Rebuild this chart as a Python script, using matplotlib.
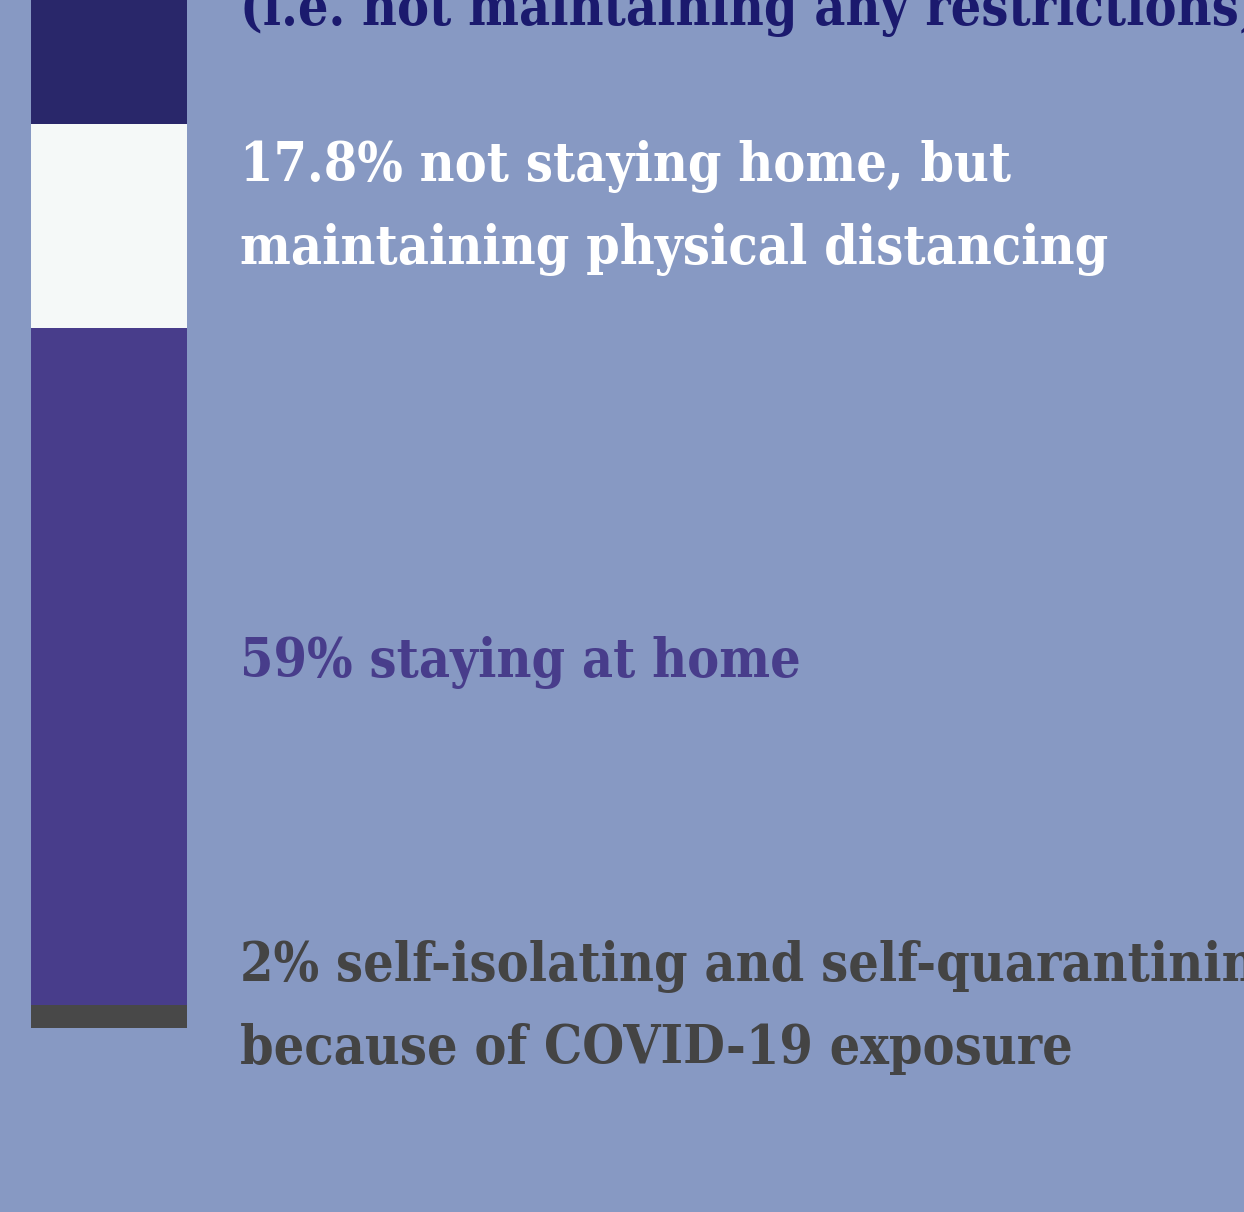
import matplotlib
matplotlib.use("Agg")
import matplotlib.pyplot as plt

# ---- data (bottom to top) ----
categories = ["self-isolating", "staying at home", "distancing", "no restrictions"]
values = [2.0, 59.0, 17.8, 21.2]
colors = ["#484848", "#483D8B", "#F5F9F8", "#29276A"]
label_lines = [
    ["2% self-isolating and self-quarantining", "because of COVID-19 exposure"],
    ["59% staying at home"],
    ["17.8% not staying home, but", "maintaining physical distancing"],
    ["(i.e. not maintaining any restrictions)"],
]
label_colors = ["#444444", "#483D8B", "#FFFFFF", "#1B1A6E"]

BG = "#8799C3"
W, H = 1244, 1212
PX_PER = 11.47          # pixels per percentage point
BAR_BOTTOM_PX = 1028    # pixel row of bar base

fig = plt.figure(figsize=(W / 100, H / 100), dpi=100, facecolor=BG)
ax = fig.add_axes([0, 0, 1, 1])
ax.set_facecolor(BG)
ax.set_xlim(0, W)
ax.set_ylim(-(H - BAR_BOTTOM_PX) / PX_PER, BAR_BOTTOM_PX / PX_PER)
ax.axis("off")

bottom = 0.0
for v, c in zip(values, colors):
    ax.bar(109, v, width=156, bottom=bottom, color=c, linewidth=0)
    bottom += v

def py(p):
    return (BAR_BOTTOM_PX - p) / PX_PER

# fit font size to reference widths of several fully visible lines
FAMILY = ["DejaVu Serif"]
STRETCH = "condensed"
fit_lines = {"17.8% not staying home, but": 760,
             "maintaining physical distancing": 882,
             "59% staying at home": 558,
             "because of COVID-19 exposure": 833}
fig.canvas.draw()
r = fig.canvas.get_renderer()
tot_w = 0.0
for s in fit_lines:
    probe = ax.text(240, 0, s, fontsize=40, fontweight="bold",
                    family=FAMILY, fontstretch=STRETCH)
    tot_w += probe.get_window_extent(r).width
    probe.remove()
fs = 40 * sum(fit_lines.values()) / tot_w

first_baselines = [981, 677, 181, 25]
LINE_GAP = 83
for lines, col, b0 in zip(label_lines, label_colors, first_baselines):
    for i, line in enumerate(lines):
        ax.text(240, py(b0 + i * LINE_GAP), line, fontsize=fs, fontweight="bold",
                family=FAMILY, fontstretch=STRETCH, color=col,
                va="baseline", ha="left")

fig.savefig("out.png", dpi=100, facecolor=BG)
